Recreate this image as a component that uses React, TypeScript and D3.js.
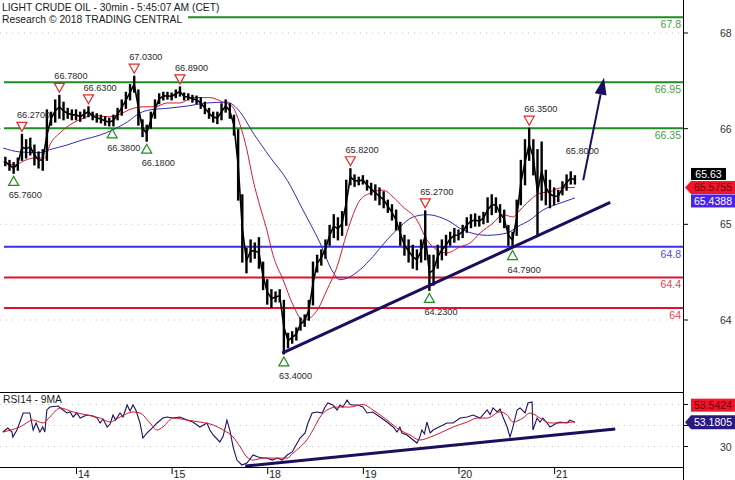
import React from 'react';
import * as d3 from 'd3';

// ---------- texts ----------
const title1 = 'LIGHT CRUDE OIL - 30min - 5:45:07 AM (CET)';
const title2 = 'Research © 2018 TRADING CENTRAL';
const rsiTitle = 'RSI14 - 9MA';

// ---------- x axis (hours from start of the 14th) ----------
const dayLabels = ['14', '15', '18', '19', '20', '21'];
const dayStartHours = [0, 23, 46, 69, 92, 115];

// ---------- right axis ----------
const priceAxisLabels = ['68', '66', '65', '64'];
const rsiAxisTicks = [70, 50, 30];
const rsiAxisLabelShown = [false, false, true]; // 70 and 50 sit under the value boxes

// ---------- hourly bars, first bar at hour -17 ----------
const firstHour = -17;
const barHigh = [
  65.97, 65.93, 65.90, 65.96, 66.27, 66.20, 66.22, 66.13, 66.04, 66.07,
  66.59, 66.56, 66.72, 66.78, 66.69, 66.61, 66.59, 66.59, 66.56, 66.59,
  66.63, 66.56, 66.54, 66.52, 66.50, 66.48, 66.52, 66.61, 66.72, 66.82,
  66.92, 67.03, 66.85, 66.46, 66.39, 66.56, 66.72, 66.80, 66.82, 66.82,
  66.81, 66.85, 66.89, 66.81, 66.80, 66.78, 66.77, 66.75, 66.69, 66.61,
  66.56, 66.56, 66.67, 66.72, 66.67, 66.52, 66.33, 65.48, 64.78, 64.89,
  64.85, 64.92, 64.60, 64.37, 64.24, 64.21, 64.24, 64.10, 63.67, 63.69,
  63.74, 63.87, 63.91, 64.10, 64.60, 64.69, 64.76, 64.89, 65.08, 65.22,
  65.18, 65.26, 65.67, 65.82, 65.74, 65.71, 65.73, 65.67, 65.63, 65.61,
  65.57, 65.52, 65.41, 65.35, 65.28, 65.12, 64.95, 64.89, 64.82, 64.76,
  64.89, 65.27, 64.69, 64.69, 64.82, 64.89, 64.95, 64.99, 65.04, 65.02,
  65.08, 65.18, 65.22, 65.23, 65.20, 65.25, 65.44, 65.48, 65.44, 65.35,
  65.28, 65.08, 64.99, 65.41, 65.93, 66.20, 66.35, 66.20, 66.07, 66.17,
  65.80, 65.67, 65.57, 65.54, 65.65, 65.74, 65.78, 65.73,
];
const barLow = [
  65.86, 65.80, 65.76, 65.80, 65.93, 65.96, 66.00, 65.87, 65.83, 65.80,
  65.93, 66.39, 66.43, 66.48, 66.46, 66.48, 66.46, 66.46, 66.44, 66.48,
  66.50, 66.46, 66.43, 66.42, 66.39, 66.38, 66.38, 66.46, 66.52, 66.61,
  66.72, 66.82, 66.39, 66.24, 66.18, 66.35, 66.48, 66.67, 66.72, 66.73,
  66.72, 66.75, 66.77, 66.72, 66.72, 66.69, 66.67, 66.61, 66.54, 66.48,
  66.43, 66.41, 66.46, 66.56, 66.48, 66.26, 65.41, 64.60, 64.46, 64.60,
  64.65, 64.52, 64.24, 64.05, 64.01, 64.08, 64.08, 63.40, 63.48, 63.54,
  63.58, 63.71, 63.76, 63.84, 64.04, 64.47, 64.56, 64.65, 64.82, 64.92,
  64.89, 64.95, 65.08, 65.61, 65.59, 65.61, 65.62, 65.54, 65.48, 65.41,
  65.35, 65.31, 65.25, 65.15, 65.02, 64.82, 64.69, 64.60, 64.52, 64.50,
  64.60, 64.63, 64.23, 64.30, 64.52, 64.63, 64.69, 64.82, 64.86, 64.89,
  64.92, 64.99, 65.05, 65.07, 65.07, 65.10, 65.12, 65.22, 65.25, 65.12,
  65.05, 64.82, 64.79, 64.95, 65.35, 65.61, 65.93, 65.74, 64.95, 65.41,
  65.35, 65.31, 65.35, 65.39, 65.48, 65.54, 65.62, 65.62,
];

// ---------- moving averages [hour, price] ----------
const maFast: [number, number][] = [
  [-17.5, 65.91], [-14.7, 65.87], [-12.3, 65.93], [-9.9, 65.96], [-7.5, 65.96], [-6.3, 66.13],
  [-3.8, 66.29], [-0.7, 66.42], [1.7, 66.48], [4.1, 66.52], [7.5, 66.5], [9.9, 66.52],
  [13.7, 66.61], [16.6, 66.63], [19.0, 66.63], [21.9, 66.68], [25.0, 66.68], [28.1, 66.75],
  [32.2, 66.75], [35.4, 66.69], [37.5, 66.64], [39.5, 66.39], [41.1, 66.07], [42.6, 65.67],
  [44.3, 65.32], [45.9, 65.02], [47.4, 64.69], [49.8, 64.37], [52.2, 64.04], [54.6, 63.84],
  [56.3, 63.87], [58.0, 63.97], [60.4, 64.24], [62.8, 64.54], [65.2, 64.99], [68.3, 65.41],
  [70.7, 65.5], [73.9, 65.54], [76.3, 65.45], [78.7, 65.32], [82.0, 65.15], [84.4, 64.89],
  [86.8, 64.76], [89.2, 64.72], [92.4, 64.8], [94.8, 64.85], [97.2, 64.98], [100.3, 65.11],
  [102.7, 65.22], [105.1, 65.19], [106.8, 65.28], [109.2, 65.41], [111.6, 65.5], [114.0, 65.52],
  [116.4, 65.57], [120.0, 65.5755],
];
const maSlow: [number, number][] = [
  [-17.5, 66.09], [-13.5, 66.04], [-8.7, 66.03], [-6.3, 66.07], [-2.2, 66.13], [1.7, 66.2],
  [5.8, 66.26], [8.9, 66.33], [12.3, 66.43], [15.4, 66.55], [17.8, 66.59], [21.9, 66.61],
  [26.7, 66.64], [31.5, 66.68], [36.3, 66.69], [39.5, 66.56], [42.6, 66.29], [46.7, 65.97],
  [50.8, 65.67], [54.6, 65.28], [58.7, 64.85], [61.8, 64.47], [63.5, 64.37], [65.2, 64.39],
  [68.3, 64.5], [71.4, 64.67], [74.8, 64.89], [77.9, 65.06], [81.1, 65.19], [84.4, 65.22],
  [89.2, 65.15], [93.1, 65.02], [98.9, 64.95], [103.7, 64.98], [106.1, 65.06], [109.2, 65.15],
  [112.3, 65.28], [116.4, 65.37], [120.0, 65.4388],
];

// ---------- horizontal levels ----------
const levelValues = [67.8, 66.95, 66.35, 64.8, 64.4, 64];
const levelLabels = ['67.8', '66.95', '66.35', '64.8', '64.4', '64'];
const levelKinds = ['res', 'res', 'res', 'pivot', 'sup', 'sup'];

// ---------- swing labels ----------
const pivotHours = [-15, -13, -4, 3, 8.7, 14, 17, 25, 50, 66, 84, 85, 105, 109, 119];
const pivotPrices = [65.76, 66.27, 66.78, 66.63, 66.38, 67.03, 66.18, 66.89, 63.4, 65.82, 65.27, 64.23, 64.79, 66.35, 65.8];
const pivotTypes = ['low', 'high', 'high', 'high', 'low', 'high', 'low', 'high', 'low', 'high', 'high', 'low', 'low', 'high', 'target'];

// ---------- trend lines / arrow [hour, value] ----------
const priceTrend: [number, number][] = [[49.6, 63.41], [128.5, 65.38]];
const rsiTrend: [number, number][] = [[40.7, 11.4], [129.7, 46.7]];
const forecastArrow: [number, number][] = [[122.0, 65.67], [127.0, 67.01]];

// ---------- last values ----------
const lastPrice = 65.63;
const lastMaFast = 65.5755;
const lastMaSlow = 65.4388;
const lastRsi = 53.1805;
const lastRsiMa = 53.5424;

// ---------- RSI [hour, value] ----------
const rsiLine: [number, number][] = [
  [-17.6, 43.8], [-16.4, 47.6], [-15.4, 43.8], [-15.2, 39.0], [-14.2, 45.7], [-12.7, 61.9], [-11.1, 61.9],
  [-10.3, 45.7], [-9.6, 52.4], [-8.7, 43.8], [-8.0, 48.6], [-7.5, 43.8], [-7.0, 64.8], [-6.3, 67.6],
  [-4.3, 68.6], [-3.1, 64.8], [-2.2, 61.9], [-1.4, 62.9], [-0.7, 58.1], [0.2, 61.9], [1.0, 57.1],
  [2.6, 60.0], [4.1, 59.0], [5.1, 57.1], [5.8, 52.4], [6.5, 56.2], [7.5, 48.6], [8.2, 51.4],
  [8.9, 60.0], [9.5, 55.2], [10.6, 61.9], [11.3, 58.1], [12.3, 69.5], [13.0, 63.8], [13.7, 69.5],
  [14.4, 64.8], [15.4, 52.4], [16.1, 38.1], [17.1, 42.9], [18.3, 47.6], [19.5, 52.4], [20.9, 57.1],
  [21.9, 58.1], [23.3, 57.1], [25.0, 58.1], [26.7, 55.2], [28.1, 53.3], [29.8, 48.6], [31.5, 52.4],
  [32.2, 45.7], [33.0, 41.0], [34.6, 34.3], [35.4, 40.0], [36.3, 55.2], [37.0, 45.7], [37.8, 29.5],
  [38.7, 17.1], [39.9, 12.4], [41.1, 14.3], [42.6, 21.9], [43.8, 20.0], [45.0, 19.0], [45.9, 19.0],
  [47.2, 17.1], [48.4, 19.0], [49.6, 17.1], [50.8, 21.9], [52.0, 24.8], [53.2, 33.3], [53.9, 38.1],
  [55.1, 42.9], [55.8, 52.4], [56.8, 61.9], [58.0, 62.9], [59.2, 61.9], [59.9, 67.6], [60.6, 71.4],
  [61.8, 69.5], [62.8, 64.8], [63.5, 69.5], [64.2, 67.6], [65.2, 74.3], [65.9, 70.0], [66.6, 69.5],
  [67.8, 69.5], [69.0, 67.6], [70.0, 61.9], [71.4, 62.9], [73.1, 58.1], [74.8, 53.3], [76.3, 48.6],
  [77.2, 43.8], [77.9, 48.6], [78.4, 42.9], [79.6, 41.0], [81.1, 36.2], [82.0, 33.3], [82.6, 38.0],
  [83.2, 45.7], [83.8, 42.0], [84.4, 53.3], [85.2, 42.9], [85.9, 45.7], [86.8, 47.6], [88.3, 50.5],
  [89.2, 52.4], [90.7, 52.4], [92.4, 57.1], [94.1, 58.1], [95.5, 60.0], [97.2, 57.1], [98.9, 64.8],
  [99.6, 60.5], [100.3, 66.7], [101.3, 62.9], [102.0, 65.7], [102.7, 58.1], [103.7, 48.6], [104.4, 39.0],
  [105.1, 48.6], [106.1, 64.8], [106.8, 66.7], [108.0, 61.9], [108.7, 71.4], [109.7, 72.4], [109.9, 45.7],
  [110.9, 57.1], [111.6, 53.3], [112.3, 57.1], [113.3, 52.4], [114.0, 48.6], [115.7, 52.4], [116.4, 53.3],
  [118.1, 52.4], [118.8, 55.2], [120.0, 53.18],
];
const rsiMa: [number, number][] = [
  [-17.6, 43.8], [-13.5, 48.6], [-10.3, 55.2], [-7.9, 52.4], [-6.3, 58.1], [-3.8, 66.7], [-0.7, 62.9],
  [2.6, 60.0], [5.8, 57.1], [8.2, 53.3], [10.6, 58.1], [13.7, 62.9], [15.4, 61.9], [17.8, 52.4],
  [19.5, 45.7], [20.9, 48.6], [23.3, 57.1], [26.7, 55.2], [29.8, 53.3], [33.0, 50.5], [35.4, 45.7],
  [37.8, 39.0], [39.5, 29.5], [41.1, 20.0], [42.6, 17.1], [45.0, 19.0], [48.4, 19.0], [50.8, 19.0],
  [52.2, 23.8], [53.9, 29.5], [55.5, 36.2], [57.0, 45.7], [58.7, 58.1], [60.4, 64.8], [62.8, 67.6],
  [65.9, 67.6], [69.0, 70.0], [71.4, 64.8], [74.8, 55.2], [77.9, 45.7], [80.3, 41.0], [82.7, 36.2],
  [85.2, 39.0], [87.6, 42.9], [90.7, 48.6], [94.1, 53.3], [96.5, 57.1], [98.9, 57.1], [102.0, 62.9],
  [103.7, 60.0], [105.1, 53.3], [107.5, 57.1], [109.2, 61.9], [111.6, 57.1], [114.0, 52.4], [116.4, 52.4],
  [120.0, 53.54],
];

// ---------- layout ----------
const W = 735;
const H = 480;
const PLOT_R = 683;
const PRICE_B = 392;
const RSI_B = 467;
const FONT = 'Liberation Sans, Arial, Helvetica, sans-serif';

const levelColor: Record<string, string> = { res: '#1f8c1f', pivot: '#3a2ee8', sup: '#e0122c' };
const levelTextColor: Record<string, string> = { res: '#47a047', pivot: '#5646e0', sup: '#e8404c' };

export default function App() {
  const x = d3.scaleLinear().domain([-18.28, 146.0]).range([0, PLOT_R]);
  const yP = d3.scaleLinear().domain([62.902, 68.026]).range([PRICE_B, 0]);
  const yR = d3.scaleLinear().domain([10.5, 81.9]).range([RSI_B, PRICE_B]);
  const yAxisPos = d3.scalePoint<string>().domain(priceAxisLabels).range([33, 320]);

  const priceLine = d3.line<[number, number]>().x(d => x(d[0])).y(d => yP(d[1])).curve(d3.curveMonotoneX);
  const rsiPath = d3.line<[number, number]>().x(d => x(d[0])).y(d => yR(d[1]));
  const rsiMaPath = d3.line<[number, number]>().x(d => x(d[0])).y(d => yR(d[1])).curve(d3.curveMonotoneX);

  // path through the middle of each bar, so the bars read as one jagged trace
  const barMid = d3.line<number>()
    .x((_, i) => x(firstHour + i))
    .y((hi, i) => yP((hi + barLow[i]) / 2));

  // arrow geometry
  const ax0 = x(forecastArrow[0][0]), ay0 = yP(forecastArrow[0][1]);
  const ax1 = x(forecastArrow[1][0]), ay1 = yP(forecastArrow[1][1]);
  const ang = Math.atan2(ay1 - ay0, ax1 - ax0);
  const headLen = 17, headHalf = 6;
  const bx = ax1 - headLen * Math.cos(ang), by = ay1 - headLen * Math.sin(ang);
  const head = [
    [ax1, ay1],
    [bx + headHalf * Math.sin(ang), by - headHalf * Math.cos(ang)],
    [bx - headHalf * Math.sin(ang), by + headHalf * Math.cos(ang)],
  ].map(p => p.join(',')).join(' ');

  const boxH = 13;
  const yRed = yP(lastMaFast);
  const redTop = yRed - boxH / 2;
  const blackTop = redTop - boxH;
  const blueTop = redTop + boxH + 0.5;
  const yNavy = yR(lastRsi);
  const navyTop = yNavy - 7;
  const rsiRedTop = navyTop - 16.5;

  return (
    <svg width={W} height={H} style={{ position: 'absolute', left: 0, top: 0, background: '#fff' }}
      fontFamily={FONT}>
      <defs>
        <clipPath id="pclip"><rect x={0} y={0} width={PLOT_R} height={PRICE_B} /></clipPath>
        <clipPath id="rclip"><rect x={0} y={PRICE_B} width={PLOT_R} height={RSI_B - PRICE_B} /></clipPath>
      </defs>
      <rect x={0} y={0} width={W} height={H} fill="#fff" />

      {/* dotted grids */}
      {priceAxisLabels.map(l => (
        <line key={'g' + l} x1={0} x2={PLOT_R} y1={yAxisPos(l)} y2={yAxisPos(l)}
          stroke="#c4c4c4" strokeWidth={1} strokeDasharray="1 5" />
      ))}
      {rsiAxisTicks.map(t => (
        <line key={'rg' + t} x1={0} x2={PLOT_R} y1={yR(t)} y2={yR(t)}
          stroke="#c4c4c4" strokeWidth={1} strokeDasharray="1 5" />
      ))}

      {/* levels */}
      {levelValues.map((v, i) => (
        <g key={'lv' + i}>
          <line x1={4} x2={PLOT_R} y1={yP(v)} y2={yP(v)} stroke={levelColor[levelKinds[i]]} strokeWidth={2} />
          <text x={PLOT_R - 2} y={yP(v) + 11} textAnchor="end" fontSize={10.5}
            fill={levelTextColor[levelKinds[i]]}>{levelLabels[i]}</text>
        </g>
      ))}

      <g clipPath="url(#pclip)">
        {/* moving averages */}
        <path d={priceLine(maSlow) || ''} fill="none" stroke="#3a28b8" strokeWidth={1} />
        <path d={priceLine(maFast) || ''} fill="none" stroke="#d81b30" strokeWidth={1} />
        {/* bars */}
        <path d={barMid(barHigh) || ''} fill="none" stroke="#000" strokeWidth={1.6} strokeLinejoin="round" />
        {barHigh.map((hi, i) => (
          <line key={'b' + i} x1={x(firstHour + i)} x2={x(firstHour + i)}
            y1={yP(hi) - 0.5} y2={yP(barLow[i]) + 0.5} stroke="#000" strokeWidth={2.4} />
        ))}
        {/* trend line */}
        <line x1={x(priceTrend[0][0])} y1={yP(priceTrend[0][1])} x2={x(priceTrend[1][0])} y2={yP(priceTrend[1][1])}
          stroke="#1b0e5e" strokeWidth={3} />
        {/* arrow */}
        <line x1={ax0} y1={ay0} x2={bx} y2={by} stroke="#1b0e5e" strokeWidth={2} />
        <polygon points={head} fill="#1b0e5e" />
      </g>

      {/* pivots */}
      {pivotHours.map((h, i) => {
        const cx = x(h);
        const cy = yP(pivotPrices[i]);
        const t = pivotTypes[i];
        const label = pivotPrices[i].toFixed(4);
        if (t === 'low') {
          return (
            <g key={'pv' + i}>
              <polygon points={`${cx},${cy + 3} ${cx - 5},${cy + 12} ${cx + 5},${cy + 12}`}
                fill="#fff" stroke="#1f8f1f" strokeWidth={1.2} />
              <text x={cx - 5} y={cy + 25} fontSize={9.2} fill="#2a2a2a">{label}</text>
            </g>
          );
        }
        if (t === 'high') {
          return (
            <g key={'pv' + i}>
              <polygon points={`${cx},${cy - 3} ${cx - 5},${cy - 12} ${cx + 5},${cy - 12}`}
                fill="#fff" stroke="#e02a2a" strokeWidth={1.2} />
              <text x={cx - 5} y={cy - 16} fontSize={9.2} fill="#2a2a2a">{label}</text>
            </g>
          );
        }
        return <text key={'pv' + i} x={cx - 5} y={cy - 16} fontSize={9.2} fill="#2a2a2a">{label}</text>;
      })}

      {/* title */}
      <rect x={0} y={0} width={188} height={24} fill="#fff" />
      <text x={2} y={11} fontSize={10.3} fill="#1a1a1a">{title1}</text>
      <text x={2} y={23} fontSize={10.3} fill="#1a1a1a">{title2}</text>

      {/* RSI panel */}
      <g clipPath="url(#rclip)">
        <path d={rsiPath(rsiLine) || ''} fill="none" stroke="#1e1060" strokeWidth={1.1} />
        <path d={rsiMaPath(rsiMa) || ''} fill="none" stroke="#d4152a" strokeWidth={1} />
        <line x1={x(rsiTrend[0][0])} y1={yR(rsiTrend[0][1])} x2={x(rsiTrend[1][0])} y2={yR(rsiTrend[1][1])}
          stroke="#1b0e5e" strokeWidth={3} />
      </g>
      <text x={3} y={402.5} fontSize={10.3} fill="#1a1a1a">{rsiTitle}</text>

      {/* frame */}
      <line x1={PLOT_R + 0.5} x2={PLOT_R + 0.5} y1={0} y2={H} stroke="#000" strokeWidth={1} />
      <line x1={0} x2={PLOT_R} y1={PRICE_B + 0.5} y2={PRICE_B + 0.5} stroke="#000" strokeWidth={1} />
      <line x1={0} x2={PLOT_R} y1={RSI_B + 0.5} y2={RSI_B + 0.5} stroke="#000" strokeWidth={1} />

      {/* right axis */}
      {priceAxisLabels.map(l => (
        <g key={'ax' + l}>
          <line x1={PLOT_R} x2={PLOT_R + 5} y1={yAxisPos(l)} y2={yAxisPos(l)} stroke="#000" />
          <text x={720} y={(yAxisPos(l) || 0) + 4} fontSize={10.5} fill="#333">{l}</text>
        </g>
      ))}
      {rsiAxisTicks.map((t, i) => (
        <g key={'rax' + t}>
          <line x1={PLOT_R} x2={PLOT_R + 5} y1={yR(t)} y2={yR(t)} stroke="#000" />
          {rsiAxisLabelShown[i] && (
            <text x={720} y={yR(t) + 4} fontSize={10.5} fill="#333">{t}</text>
          )}
        </g>
      ))}

      {/* x axis */}
      {dayLabels.map((d, i) => (
        <g key={'dx' + d}>
          <line x1={x(dayStartHours[i]) + 0.5} x2={x(dayStartHours[i]) + 0.5} y1={RSI_B} y2={RSI_B + 7} stroke="#000" />
          <text x={x(dayStartHours[i]) + 2} y={478} fontSize={10.5} fill="#222">{d}</text>
        </g>
      ))}

      {/* value boxes */}
      <rect x={691} y={blackTop} width={35} height={boxH - 1} fill="#000" />
      <text x={708.5} y={blackTop + 10} fontSize={10.5} fill="#fff" textAnchor="middle">{lastPrice.toFixed(2)}</text>

      <polygon points={`685,${yRed} 691,${redTop} 735,${redTop} 735,${redTop + boxH} 691,${redTop + boxH}`} fill="#f2142c" />
      <text x={713} y={redTop + 10.5} fontSize={10.5} fill="#6b0000" textAnchor="middle">{lastMaFast.toFixed(4)}</text>

      <rect x={691} y={blueTop} width={44} height={boxH} fill="#4a22f0" />
      <text x={713} y={blueTop + 10.5} fontSize={10.5} fill="#fff" textAnchor="middle">{lastMaSlow.toFixed(4)}</text>

      <rect x={691} y={rsiRedTop} width={44} height={boxH} fill="#f2142c" />
      <text x={713} y={rsiRedTop + 10.5} fontSize={10.5} fill="#6b0000" textAnchor="middle">{lastRsiMa.toFixed(4)}</text>

      <polygon points={`685,${yNavy} 691,${navyTop} 735,${navyTop} 735,${navyTop + 14} 691,${navyTop + 14}`} fill="#2a1a80" />
      <text x={713} y={navyTop + 11} fontSize={10.5} fill="#fff" textAnchor="middle">{lastRsi.toFixed(4)}</text>
    </svg>
  );
}
